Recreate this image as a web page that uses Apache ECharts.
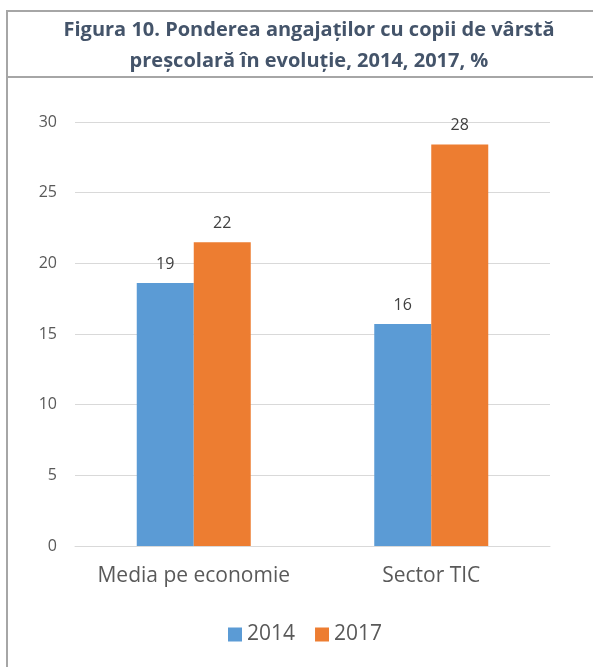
<!DOCTYPE html>
<html>
<head>
<meta charset="utf-8">
<script src="https://cdn.jsdelivr.net/npm/echarts@6/dist/echarts.min.js"></script>
<style>
html,body{margin:0;padding:0;background:#fff;}
#chart{width:593px;height:667px;}
</style>
</head>
<body>
<div id="chart"></div>
<script>
var titleText = 'Figura 10. Ponderea angajaților cu copii de vârstă\npreșcolară în evoluție, 2014, 2017, %';
var categories = ['Media pe economie', 'Sector TIC'];
var seriesNames = ['2014', '2017'];
var values2014 = [18.6, 15.7];
var values2017 = [21.5, 28.4];
var yTicks = [0, 5, 10, 15, 20, 25, 30];

var FONT = '"Open Sans", "Noto Sans", sans-serif';
var chart = echarts.init(document.getElementById('chart'), null, {renderer: 'canvas'});

function labelCfg() {
  return {
    show: true, position: 'top', distance: 11,
    color: '#404040', fontSize: 16, fontFamily: FONT,
    formatter: function (p) { return Math.round(p.value); }
  };
}

chart.setOption({
  backgroundColor: '#ffffff',
  animation: false,
  title: {
    text: titleText,
    left: 304, top: 10, textAlign: 'center',
    textStyle: {fontSize: 20, fontWeight: 'bold', color: '#44546a', lineHeight: 31, fontFamily: FONT}
  },
  graphic: [
    {type: 'line', shape: {x1: 7, y1: 10, x2: 7, y2: 667}, style: {stroke: '#a6a6a6', lineWidth: 2}},
    {type: 'line', shape: {x1: 6, y1: 11, x2: 593, y2: 11}, style: {stroke: '#a6a6a6', lineWidth: 2}},
    {type: 'line', shape: {x1: 6, y1: 77, x2: 593, y2: 77}, style: {stroke: '#a6a6a6', lineWidth: 2}}
  ],
  legend: {
    data: seriesNames,
    left: 223, top: 619,
    itemWidth: 14, itemHeight: 14, itemGap: 20,
    icon: 'rect',
    textStyle: {fontSize: 21, color: '#595959', fontFamily: FONT}
  },
  grid: {left: 75, right: 43, top: 122, bottom: 121, containLabel: false},
  xAxis: {
    type: 'category', data: categories,
    axisLine: {show: true, lineStyle: {color: '#d9d9d9', width: 1}},
    axisTick: {show: false},
    axisLabel: {fontSize: 21, color: '#595959', margin: 20, interval: 0, fontFamily: FONT}
  },
  yAxis: {
    type: 'value', min: yTicks[0], max: yTicks[yTicks.length - 1], interval: 5,
    axisLine: {show: false}, axisTick: {show: false},
    splitLine: {lineStyle: {color: '#d9d9d9', width: 1}},
    axisLabel: {fontSize: 16, color: '#595959', margin: 18, fontFamily: FONT}
  },
  series: [
    {name: seriesNames[0], type: 'bar', data: values2014, barGap: '0%', barCategoryGap: '52%',
     itemStyle: {color: '#5b9bd5'}, label: labelCfg()},
    {name: seriesNames[1], type: 'bar', data: values2017, barGap: '0%', barCategoryGap: '52%',
     itemStyle: {color: '#ed7d31'}, label: labelCfg()}
  ]
});
</script>
</body>
</html>
